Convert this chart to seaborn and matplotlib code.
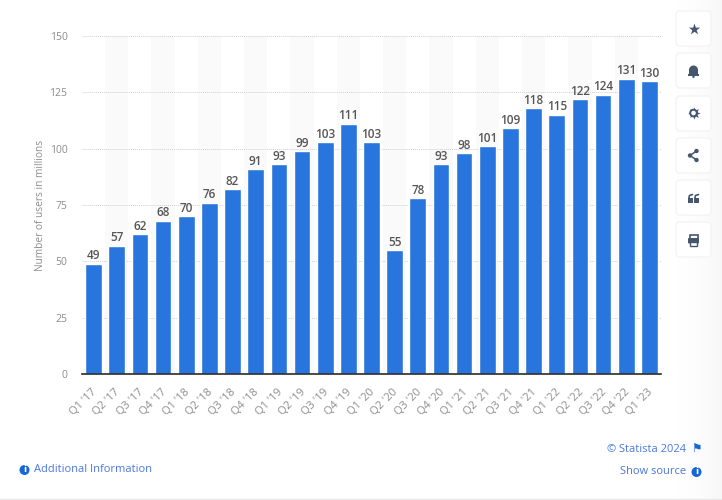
import matplotlib
matplotlib.use("Agg")
import matplotlib.pyplot as plt
import numpy as np
import pandas as pd
import seaborn as sns
from matplotlib.patches import Circle, FancyBboxPatch, Rectangle, Wedge
from matplotlib.transforms import ScaledTranslation

quarters = ["Q1 '17", "Q2 '17", "Q3 '17", "Q4 '17", "Q1 '18", "Q2 '18", "Q3 '18", "Q4 '18",
            "Q1 '19", "Q2 '19", "Q3 '19", "Q4 '19", "Q1 '20", "Q2 '20", "Q3 '20", "Q4 '20",
            "Q1 '21", "Q2 '21", "Q3 '21", "Q4 '21", "Q1 '22", "Q2 '22", "Q3 '22", "Q4 '22",
            "Q1 '23"]
users = [49, 57, 62, 68, 70, 76, 82, 91, 93, 99, 103, 111, 103, 55, 78, 93, 98, 101, 109, 118,
         115, 122, 124, 131, 130]
y_ticks = [0, 25, 50, 75, 100, 125, 150]

W, H = 722, 500
BLUE = "#2975de"
LINK = "#4a78e0"
ICON = "#46566f"
TICK = "#8c8c8c"

sns.set_theme(style="white")
plt.rcParams["font.family"] = ["Open Sans", "DejaVu Sans"]

fig = plt.figure(figsize=(W / 100, H / 100), dpi=100, facecolor="white")

# page chrome in pixel coordinates, sits behind the chart
bg = fig.add_axes([0, 0, 1, 1], zorder=0)
shade = np.linspace(0, 1, 60).reshape(1, -1) ** 2
bg.imshow(shade, extent=(662, W, H, 0), cmap="Greys", vmin=0, vmax=16, aspect="auto", zorder=1)
bg.set_xlim(0, W)
bg.set_ylim(H, 0)
bg.axis("off")
bg.plot([0, W], [498.5, 498.5], color="#e8e8e8", lw=1, zorder=2)

button_tops = [11, 53, 96, 138, 180, 222]
for top in button_tops:
    bg.add_patch(FancyBboxPatch((676, top), 35, 35, boxstyle="round,pad=0,rounding_size=4",
                                fc="white", ec="#f3f4f6", lw=1, zorder=3))

# star
bg.scatter([693.5], [28.5], marker="*", s=75, color=ICON, lw=0, zorder=4)
# bell
bg.add_patch(Wedge((693.5, 70), 4.5, 180, 360, color=ICON, lw=0, zorder=4))
bg.add_patch(Rectangle((689, 70), 9, 4.5, color=ICON, lw=0, zorder=4))
bg.add_patch(Rectangle((688, 74), 11, 1.5, color=ICON, lw=0, zorder=4))
bg.add_patch(Circle((693.5, 76.8), 1.2, color=ICON, lw=0, zorder=4))
# gear
bg.scatter([693.5], [113], marker=(8, 1, 0), s=80, color=ICON, lw=0, zorder=4)
bg.add_patch(Circle((693.5, 113), 4.3, color=ICON, lw=0, zorder=4))
bg.add_patch(Circle((693.5, 113), 2.3, color="white", lw=0, zorder=5))
# share
bg.plot([696.5, 690, 696.5], [151, 155.5, 160], color=ICON, lw=1.1, zorder=4)
for cx, cy in [(696.5, 151), (690, 155.5), (696.5, 160)]:
    bg.add_patch(Circle((cx, cy), 2.2, color=ICON, lw=0, zorder=5))
# quote marks
for cx in [690.5, 696.5]:
    bg.add_patch(Rectangle((cx - 2.2, 198), 4.4, 4.5, color=ICON, lw=0, zorder=4))
    bg.plot([cx - 1.7, cx - 1, cx + 2], [198.5, 195.5, 194.5], color=ICON, lw=1.2, zorder=4)
# printer
bg.add_patch(Rectangle((689.5, 234.5), 8, 4, fc="white", ec=ICON, lw=1.2, zorder=4))
bg.add_patch(FancyBboxPatch((688, 238), 11, 5.5, boxstyle="round,pad=0,rounding_size=1",
                            color=ICON, lw=0, zorder=4))
bg.add_patch(Rectangle((690, 242), 7, 3.5, fc="white", ec=ICON, lw=1, zorder=5))

ax = fig.add_axes([82 / W, 1 - 374 / H, 579 / W, 338 / H], zorder=1)
ax.patch.set_alpha(0)

df = pd.DataFrame({"quarter": quarters, "users": users})
sns.barplot(data=df, x="quarter", y="users", color=BLUE, saturation=1, width=0.72, ax=ax, zorder=3)

for i in range(1, len(quarters), 2):
    ax.axvspan(i - 0.5, i + 0.5, color="#fafafa", lw=0, zorder=0)

ax.set_xlim(-0.5, len(quarters) - 0.5)
ax.set_ylim(0, 150)
ax.set_yticks(y_ticks)
ax.grid(axis="y", color="#cfcfcf", linestyle=(0, (1, 1)), lw=0.7)
ax.set_axisbelow(True)
sns.despine(ax=ax, left=True)
ax.spines["bottom"].set_color("#2b2b2b")
ax.spines["bottom"].set_linewidth(1.2)
ax.spines["bottom"].set_zorder(5)

ax.bar_label(ax.containers[0], padding=1, fontsize=8.5, color="#555555", fontweight="semibold")
ax.tick_params(axis="y", length=0, pad=10.5, labelsize=7.5, labelcolor=TICK)
ax.tick_params(axis="x", length=0, pad=9, labelsize=8, labelcolor=TICK)
shift = ScaledTranslation(-2 / 100, 0, fig.dpi_scale_trans)
for label in ax.get_xticklabels():
    label.set_rotation(45)
    label.set_ha("right")
    label.set_rotation_mode("anchor")
    label.set_transform(label.get_transform() + shift)
ax.set_xlabel("")
ax.set_ylabel("Number of users in millions", fontsize=7.3, color=TICK)
ax.yaxis.set_label_coords((46 - 82) / 579, 0.5)

# footer
fg = fig.add_axes([0, 0, 1, 1], zorder=2)
fg.set_xlim(0, W)
fg.set_ylim(H, 0)
fg.axis("off")
for cx, cy in [(24.5, 470), (696.5, 472)]:
    fg.add_patch(Circle((cx, cy), 5, color="#1766d6", lw=0))
    fg.text(cx, cy, "i", color="white", fontsize=6.5, fontweight="bold", ha="center", va="center",
            family="DejaVu Sans")
fg.text(34.5, 470, "Additional Information", color=LINK, fontsize=8, va="center", ha="left")
fg.text(686.5, 449, "\u00a9 Statista 2024", color=LINK, fontsize=8, va="center", ha="right")
fg.text(686.5, 472, "Show source", color=LINK, fontsize=8, va="center", ha="right")
fg.text(696.5, 449, "\u2691", color="#1766d6", fontsize=8.5, va="center", ha="center", family="DejaVu Sans")

fig.savefig("out.png", dpi=100)
plt.close(fig)
